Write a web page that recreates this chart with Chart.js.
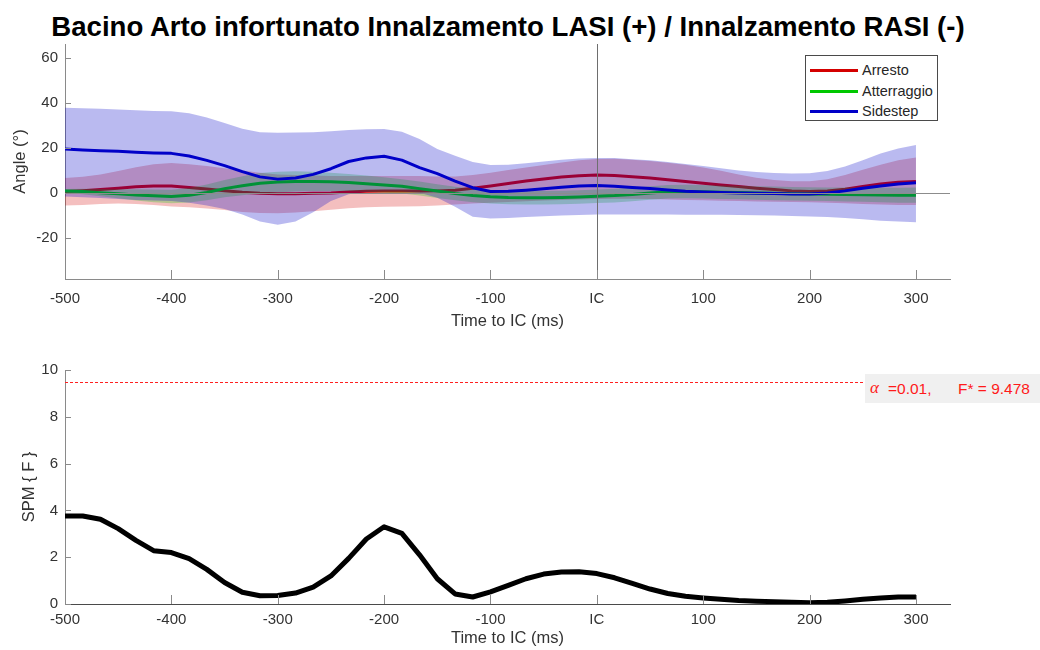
<!DOCTYPE html>
<html>
<head>
<meta charset="utf-8">
<title>Bacino Arto infortunato</title>
<script src="https://cdn.jsdelivr.net/npm/chart.js@4.4.1/dist/chart.umd.min.js"></script>
<style>
  html, body { margin: 0; padding: 0; background: #fff; }
  body { width: 1040px; height: 650px; position: relative; overflow: hidden;
         font-family: "Liberation Sans", Arial, sans-serif; }
  #title { position: absolute; left: 0; top: 11px; width: 1016px; text-align: center;
           font-weight: bold; font-size: 27.6px; line-height: 32px; color: #000; white-space: nowrap; }
  canvas { position: absolute; left: 0; }
  #angleChart { top: 0; }
  #spmChart { top: 340px; }
  #legend { position: absolute; left: 805px; top: 55px; width: 131px; height: 64px;
            border: 1px solid #4a4a4a; background: #fff; }
  .row { position: absolute; left: 0; height: 20px; width: 131px; }
  .row .swatch { position: absolute; left: 4px; top: 9px; width: 48px; height: 3px; }
  .row .txt { position: absolute; left: 56px; top: 1px; font-size: 14.5px; line-height: 18px; color: #262626; }
  #critBox { position: absolute; left: 865px; top: 374px; width: 175px; height: 29px; background: #f0f0f0; }
  #critBox span { position: absolute; top: 6px; font-size: 15.5px; line-height: 18px; color: #ff1a1a; white-space: pre; }
  #critBox .greek { font-family: "Liberation Serif", "DejaVu Serif", serif; font-style: italic; font-size: 17px; left: 5px; top: 5px; }
</style>
</head>
<body>
<div id="title">Bacino Arto infortunato Innalzamento LASI (+) / Innalzamento RASI (-)</div>
<canvas id="angleChart" width="1040" height="340"></canvas>
<canvas id="spmChart" width="1040" height="310"></canvas>
<div id="legend"></div>
<div id="critBox"><span class="greek">α</span><span id="alphaTxt" style="left:23px"></span><span id="fTxt" style="left:93px"></span></div>

<script>
// Time axis, ms relative to initial contact (IC)
const times = [-500, -483.3, -466.7, -450, -433.3, -416.7, -400, -383.3, -366.7, -350,
  -333.3, -316.7, -300, -283.3, -266.7, -250, -233.3, -216.7, -200, -183.3,
  -166.7, -150, -133.3, -116.7, -100, -83.3, -66.7, -50, -33.3, -16.7,
  0, 16.7, 33.3, 50, 66.7, 83.3, 100, 116.7, 133.3, 150,
  166.7, 183.3, 200, 216.7, 233.3, 250, 266.7, 283.3, 300];

// Pelvis obliquity (deg): mean and mean ± SD per task
const arresto = [0.7, 1.1, 1.6, 2.2, 2.8, 3.2, 3.2, 2.5, 1.8, 1.1,
  0.4, -0.1, -0.3, -0.3, -0.1, 0.1, 0.5, 0.8, 0.9, 0.9,
  0.9, 1, 1.3, 2.2, 3.2, 4.3, 5.4, 6.3, 7.1, 7.7,
  8, 7.8, 7.3, 6.7, 5.9, 5.1, 4.4, 3.6, 2.9, 2.2,
  1.6, 1, 0.7, 0.9, 1.7, 2.9, 4, 4.8, 5.2];
const arrestoHi = [6.7, 7.3, 8.3, 9.8, 11.5, 12.8, 13.3, 12.8, 12, 11,
  10, 9, 8.3, 8, 7.8, 7.6, 7.6, 7.6, 7.6, 7.6,
  7.6, 7.4, 7.4, 8, 9, 10.2, 11.4, 12.5, 13.6, 14.6,
  15.1, 15.2, 14.8, 14.2, 13.5, 12.6, 11.4, 9.9, 8.2, 6.8,
  5.8, 5.3, 5.3, 6.2, 8, 10.3, 12.6, 14.6, 15.8];
const arrestoLo = [-5.5, -5.2, -4.8, -4.6, -4.8, -5.3, -5.9, -6.3, -6.8, -7.5,
  -8.3, -8.8, -8.9, -8.6, -8, -7.3, -6.7, -6.3, -6, -5.9,
  -5.8, -5.5, -5, -4.6, -4.2, -3.9, -3.6, -3.3, -3, -2.8,
  -2.6, -2.5, -2.5, -2.6, -2.8, -3, -3.2, -3.4, -3.5, -3.7,
  -3.8, -3.9, -4, -4.2, -4.5, -4.8, -5, -5.2, -5.3];

const atterraggio = [1, 0.7, 0.2, -0.3, -0.8, -1.2, -1.5, -0.9, 0.3, 2,
  3.3, 4.4, 4.9, 5.2, 5.2, 5, 4.7, 4.2, 3.6, 3,
  2, 0.9, -0.2, -1, -1.6, -1.9, -2, -2, -1.9, -1.7,
  -1.4, -1.1, -0.6, 0.1, 0.6, 0.7, 0.6, 0.4, 0.3, 0.1,
  -0.1, -0.3, -0.4, -0.5, -0.6, -0.7, -0.8, -0.9, -0.9];
const atterraggioHi = [1.8, 1.9, 1.8, 1.7, 1.7, 1.6, 1.5, 2.3, 3.8, 5.8,
  7.5, 8.9, 9.5, 9.7, 9.5, 9, 8.5, 7.8, 7, 6.2,
  5.1, 3.9, 2.8, 2, 1.4, 1.1, 1, 1, 1.1, 1.3,
  1.6, 1.9, 2.4, 3.1, 3.6, 3.7, 3.6, 3.4, 3.3, 3.1,
  2.9, 2.7, 2.6, 2.5, 2.5, 2.4, 2.4, 2.4, 2.5];
const atterraggioLo = [0.2, -0.5, -1.4, -2.3, -3.3, -4, -4.5, -4.1, -3.2, -1.8,
  -0.9, -0.1, 0.3, 0.7, 0.9, 1, 0.9, 0.6, 0.2, -0.2,
  -1.1, -2.1, -3.2, -4, -4.6, -4.9, -5, -5, -4.9, -4.7,
  -4.4, -4.1, -3.6, -2.9, -2.4, -2.3, -2.4, -2.6, -2.7, -2.9,
  -3.1, -3.3, -3.4, -3.5, -3.7, -3.8, -4, -4.2, -4.3];

const sidestep = [19.5, 19.1, 18.8, 18.5, 18.1, 17.8, 17.6, 16.4, 14.5, 12.2,
  9.5, 7.2, 6.2, 6.7, 8.3, 10.8, 14, 15.6, 16.3, 14.6,
  11.3, 8.6, 5.3, 2.4, 0.7, 0.8, 1.3, 1.9, 2.6, 3.2,
  3.4, 3.1, 2.5, 2, 1.4, 0.8, 0.5, 0.3, 0.1, 0,
  -0.2, -0.4, -0.4, 0.1, 1, 2.2, 3.2, 4, 4.6];
const sidestepHi = [37.8, 37.6, 37.3, 37, 36.7, 36.4, 36.2, 35.3, 33.5, 31,
  28.5, 27, 26.7, 26.8, 27, 27.4, 27.9, 28.3, 28.4, 27.2,
  24, 19.5, 16.5, 13.8, 12.5, 12.6, 13.2, 14, 14.8, 15.3,
  15.5, 15.5, 15, 14.5, 13.8, 12.9, 12, 11, 10, 9.3,
  8.9, 8.7, 8.8, 9.8, 11.8, 14.5, 17.5, 19.8, 21.3];
const sidestepLo = [-1.5, -1.8, -2.2, -2.6, -3, -3.3, -3.5, -4.2, -5.5, -7,
  -9.5, -12.5, -14, -12.5, -8.5, -3.5, -0.5, 0.5, 0.7, 0.7,
  0.2, -2, -6, -10.5, -11.2, -11, -10.6, -10.2, -9.9, -9.7,
  -9.5, -9.4, -9.4, -9.4, -9.5, -9.6, -9.6, -9.6, -9.7, -9.8,
  -9.9, -10.1, -10.3, -10.6, -11, -11.6, -12.2, -12.6, -12.9];

// SPM{F} statistic and its critical threshold
const spmF = [3.76, 3.76, 3.62, 3.22, 2.72, 2.28, 2.2, 1.94, 1.48, 0.92,
  0.5, 0.35, 0.36, 0.47, 0.72, 1.2, 1.95, 2.78, 3.3, 3.02,
  2.1, 1.08, 0.43, 0.3, 0.52, 0.8, 1.08, 1.28, 1.37, 1.38,
  1.3, 1.12, 0.88, 0.64, 0.45, 0.33, 0.26, 0.2, 0.15, 0.12,
  0.1, 0.07, 0.05, 0.07, 0.13, 0.2, 0.26, 0.3, 0.3];
const alphaLevel = 0.01;
const fCritical = 9.478;

// Axis ranges and tick values
const timeRange = [-500, 332];
const angleRange = [-38, 66];
const spmRange = [0, 10];
const timeTicks = [-500, -400, -300, -200, -100, 0, 100, 200, 300];
const angleTicks = [-20, 0, 20, 40, 60];
const spmTicks = [0, 2, 4, 6, 8, 10];

const seriesNames = ['Arresto', 'Atterraggio', 'Sidestep'];
const lineColors = ['#d40000', '#00c800', '#0000c8'];
const bandColors = ['rgba(210,0,0,0.25)', 'rgba(0,200,0,0.25)', 'rgba(0,0,200,0.27)'];

const TEXT = '#333333';
const AXIS = '#8a8a8a';
const FONT = '"Liberation Sans", Arial, sans-serif';

const toPoints = arr => arr.map((v, i) => ({ x: times[i], y: v }));
const timeLabel = v => (v === 0 ? 'IC' : String(v));

// Small tick marks pointing into the plot area
const inwardTicks = {
  id: 'inwardTicks',
  afterDatasetsDraw(chart, args, opts) {
    const { ctx, chartArea: a, scales: { x, y } } = chart;
    ctx.save();
    ctx.strokeStyle = opts.color;
    ctx.lineWidth = 1;
    ctx.beginPath();
    x.ticks.forEach(t => {
      const px = Math.round(x.getPixelForValue(t.value)) + 0.5;
      ctx.moveTo(px, a.bottom);
      ctx.lineTo(px, a.bottom - opts.xLen);
    });
    y.ticks.forEach(t => {
      const py = Math.round(y.getPixelForValue(t.value)) + 0.5;
      ctx.moveTo(a.left, py);
      ctx.lineTo(a.left + opts.yLen, py);
    });
    ctx.stroke();
    ctx.restore();
  }
};

// Reference lines: zero angle and the IC instant
const referenceLines = {
  id: 'referenceLines',
  afterDatasetsDraw(chart) {
    const { ctx, chartArea: a, scales: { x, y } } = chart;
    ctx.save();
    ctx.lineWidth = 1;
    ctx.strokeStyle = '#8c8c8c';
    const py = Math.round(y.getPixelForValue(0)) + 0.5;
    ctx.beginPath(); ctx.moveTo(a.left, py); ctx.lineTo(a.right, py); ctx.stroke();
    ctx.strokeStyle = '#6e6e6e';
    const px = Math.round(x.getPixelForValue(0)) + 0.5;
    ctx.beginPath(); ctx.moveTo(px, a.top); ctx.lineTo(px, a.bottom); ctx.stroke();
    ctx.restore();
  }
};

// Dashed critical-threshold line
const thresholdLine = {
  id: 'thresholdLine',
  afterDatasetsDraw(chart) {
    const { ctx, chartArea: a, scales: { y } } = chart;
    const py = Math.round(y.getPixelForValue(fCritical)) + 0.5;
    ctx.save();
    ctx.strokeStyle = '#ff2020';
    ctx.lineWidth = 1;
    ctx.setLineDash([3, 2]);
    ctx.beginPath(); ctx.moveTo(a.left, py); ctx.lineTo(a.right, py); ctx.stroke();
    ctx.restore();
  }
};

function xScale(xHeight, titlePadBottom, tickPad, borderColor) {
  return {
    type: 'linear', min: timeRange[0], max: timeRange[1],
    afterBuildTicks: s => { s.ticks = timeTicks.map(v => ({ value: v })); },
    afterFit: s => { s.height = xHeight; },
    grid: { display: true, drawOnChartArea: false, drawTicks: false },
    border: { display: true, color: borderColor, width: 1 },
    ticks: { color: TEXT, font: { family: FONT, size: 15 }, padding: tickPad,
             maxRotation: 0, autoSkip: false, callback: v => timeLabel(v) },
    title: { display: true, text: 'Time to IC (ms)', color: TEXT,
             font: { family: FONT, size: 16.5 }, padding: { top: 0, bottom: titlePadBottom } }
  };
}

function yScale(range, ticks, label, titlePadTop) {
  return {
    type: 'linear', min: range[0], max: range[1],
    afterBuildTicks: s => { s.ticks = ticks.map(v => ({ value: v })); },
    afterFit: s => { s.width = 65; },
    grid: { display: true, drawOnChartArea: false, drawTicks: false },
    border: { display: true, color: AXIS, width: 1 },
    ticks: { color: TEXT, font: { family: FONT, size: 15 }, padding: 7 },
    title: { display: true, text: label, color: TEXT,
             font: { family: FONT, size: 16.5 }, padding: { top: titlePadTop, bottom: 0 } }
  };
}

const lineBase = { pointRadius: 0, pointHoverRadius: 0, tension: 0, spanGaps: true };

// Build band + mean datasets; higher order values sit underneath
const angleDatasets = [];
[[arrestoHi, arrestoLo, arresto], [atterraggioHi, atterraggioLo, atterraggio], [sidestepHi, sidestepLo, sidestep]]
  .forEach(([hi, lo, mean], k) => {
    const base = 6 - 2 * k;
    angleDatasets.push(Object.assign({}, lineBase, {
      label: seriesNames[k] + ' +SD', data: toPoints(hi), borderWidth: 0,
      backgroundColor: bandColors[k], fill: '+1', order: base
    }));
    angleDatasets.push(Object.assign({}, lineBase, {
      label: seriesNames[k] + ' -SD', data: toPoints(lo), borderWidth: 0,
      fill: false, order: base
    }));
    angleDatasets.push(Object.assign({}, lineBase, {
      label: seriesNames[k], data: toPoints(mean), borderColor: lineColors[k],
      borderWidth: 3, fill: false, order: base - 1, borderJoinStyle: 'round'
    }));
  });

const common = {
  responsive: false, animation: false, devicePixelRatio: 1,
  events: [],
  plugins: { legend: { display: false }, tooltip: { enabled: false }, title: { display: false } }
};

new Chart(document.getElementById('angleChart'), {
  type: 'line',
  data: { datasets: angleDatasets },
  options: Object.assign({}, common, {
    layout: { padding: { top: 44, right: 90, left: 0, bottom: 0 } },
    scales: {
      x: xScale(61, 9, 10.5, AXIS),
      y: yScale(angleRange, angleTicks, 'Angle (°)', 11)
    },
    plugins: Object.assign({}, common.plugins, { inwardTicks: { color: AXIS, xLen: 9, yLen: 6 } })
  }),
  plugins: [referenceLines, inwardTicks]
});

new Chart(document.getElementById('spmChart'), {
  type: 'line',
  data: {
    datasets: [Object.assign({}, lineBase, {
      label: 'SPM{F}', data: toPoints(spmF), borderColor: '#000', borderWidth: 5,
      fill: false, borderJoinStyle: 'round'
    })]
  },
  options: Object.assign({}, common, {
    layout: { padding: { top: 30, right: 90, left: 0, bottom: 0 } },
    scales: {
      x: xScale(46, 2, 7, '#4a4a4a'),
      y: yScale(spmRange, spmTicks, 'SPM { F }', 20)
    },
    plugins: Object.assign({}, common.plugins, { inwardTicks: { color: AXIS, xLen: 9, yLen: 6 } })
  }),
  plugins: [thresholdLine, inwardTicks]
});

// Legend entries from series names and colours
const legend = document.getElementById('legend');
seriesNames.forEach((name, k) => {
  const row = document.createElement('div');
  row.className = 'row';
  row.style.top = (4 + 20.5 * k) + 'px';
  const sw = document.createElement('div');
  sw.className = 'swatch';
  sw.style.background = lineColors[k];
  const tx = document.createElement('div');
  tx.className = 'txt';
  tx.textContent = name;
  row.appendChild(sw); row.appendChild(tx);
  legend.appendChild(row);
});

document.getElementById('alphaTxt').textContent = '=' + alphaLevel.toFixed(2) + ',';
document.getElementById('fTxt').textContent = 'F* = ' + fCritical.toFixed(3);
</script>
</body>
</html>
